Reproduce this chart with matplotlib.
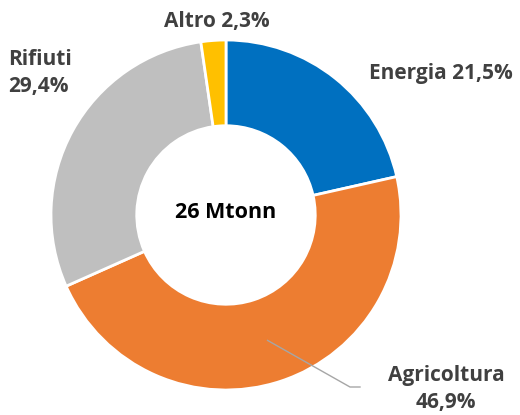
import numpy as np
import matplotlib
matplotlib.use("Agg")
import matplotlib.pyplot as plt

labels = ["Energia", "Agricoltura", "Rifiuti", "Altro"]
values = [21.5, 46.9, 29.4, 2.3]
colors = ["#0070C0", "#ED7D31", "#BFBFBF", "#FFC000"]
pct_text = ["21,5%", "46,9%", "29,4%", "2,3%"]
center_text = "26 Mtonn"

plt.rcParams['font.family'] = ['Open Sans', 'DejaVu Sans']

W, H = 520, 415
fig = plt.figure(figsize=(W / 100, H / 100), dpi=100)
ax = fig.add_axes([0, 0, 1, 1])

cx, cy = 226, H - 215
R = 175
ring = 0.49

wedges, _ = ax.pie(values, colors=colors, startangle=90, counterclock=False,
                   center=(cx, cy), radius=R, frame=True,
                   wedgeprops=dict(width=R * ring, edgecolor='white', linewidth=2))
ax.set_xlim(0, W)
ax.set_ylim(0, H)
ax.set_aspect('equal')
ax.axis('off')

tc = "#404040"
fs = 15
ax.text(cx, cy + 2, center_text, ha='center', va='center', fontsize=15.5,
        fontweight='bold', color='black')

ax.text(217, H - 22, labels[3] + " " + pct_text[3], ha='center', va='center',
        fontsize=fs, fontweight='bold', color=tc)
ax.text(8, H - 73, labels[2] + "\n" + pct_text[2], ha='left', va='center',
        fontsize=fs, fontweight='bold', color=tc, linespacing=1.4)
ax.text(369, H - 73, labels[0] + " " + pct_text[0], ha='left', va='center',
        fontsize=fs, fontweight='bold', color=tc)
ax.text(446, H - 389, labels[1] + "\n" + pct_text[1], ha='center', va='center',
        fontsize=fs, fontweight='bold', color=tc, linespacing=1.4)

# leader line for Agricoltura from the middle of its wedge
w = wedges[1]
mid = np.deg2rad((w.theta1 + w.theta2) / 2)
rm = R - R * ring / 2
x0, y0 = cx + rm * np.cos(mid), cy + rm * np.sin(mid)
ax.plot([x0, 350, 360], [y0, H - 387, H - 387], color="#A6A6A6", lw=1)

fig.savefig("out.png", dpi=100)
